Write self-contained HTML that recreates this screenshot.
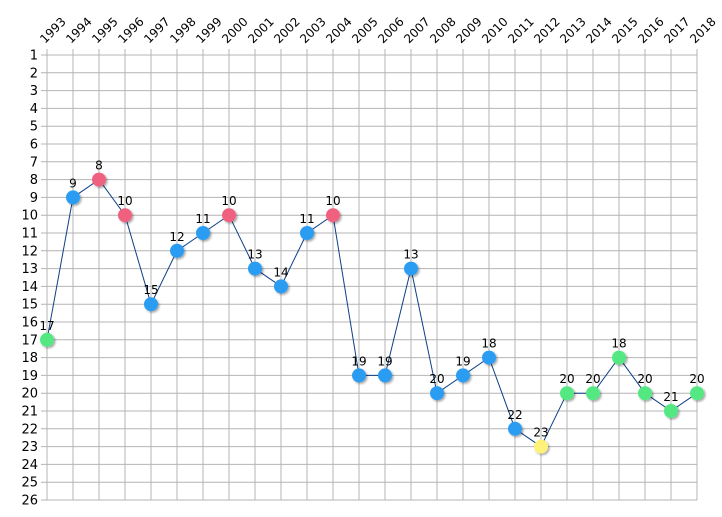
<!DOCTYPE html>
<html><head><meta charset="utf-8"><style>
body{margin:0;background:#fff;}
svg{display:block;font-family:"DejaVu Sans","Liberation Sans",sans-serif;}
</style></head><body>
<svg id="chart" width="722" height="517" viewBox="0 0 722 517">
<defs><filter id="sh" x="-50%" y="-50%" width="200%" height="200%"><feDropShadow dx="1.5" dy="1.5" stdDeviation="1" flood-color="#000" flood-opacity="0.35"/></filter></defs>
<g id="grid"></g>
<g id="xlabels"></g>
<g id="ylabels"></g>
<g id="series"></g>
</svg>
<script>
const years = [1993,1994,1995,1996,1997,1998,1999,2000,2001,2002,2003,2004,2005,2006,2007,2008,2009,2010,2011,2012,2013,2014,2015,2016,2017,2018];
const ranks = [17,9,8,10,15,12,11,10,13,14,11,10,19,19,13,20,19,18,22,23,20,20,18,20,21,20];
const colorKeys = ['g','b','p','p','b','b','b','p','b','b','b','p','b','b','b','b','b','b','b','y','g','g','g','g','g','g'];
const yTicks = [1,2,3,4,5,6,7,8,9,10,11,12,13,14,15,16,17,18,19,20,21,22,23,24,25,26];
const palette = {g:'#52e882',b:'#2a9cf2',p:'#f0607f',y:'#fff27a'};
const NS='http://www.w3.org/2000/svg';
const x0=47, dx=26, y0=55, yMax=500;
const xs = i => x0 + dx*i;
const ys = v => y0 + (yMax-y0)/25*(v-1);
function mk(tag, attrs, parent){const e=document.createElementNS(NS,tag);for(const k in attrs)e.setAttribute(k,attrs[k]);parent.appendChild(e);return e;}
const grid=document.getElementById('grid'), xl=document.getElementById('xlabels'), yl=document.getElementById('ylabels'), ser=document.getElementById('series');
years.forEach((yr,i)=>{
  const l=mk('line',{x1:xs(i),x2:xs(i),y1:49,y2:yMax,stroke:'#b4b4b4','stroke-width':1},grid);
  
  
  const t=mk('text',{x:xs(i)-2,y:44,'font-size':12,fill:'#000',transform:`rotate(-45 ${xs(i)-2} 44)`},xl);
  t.textContent=yr;
  
  
});
yTicks.forEach(v=>{
  const l=mk('line',{x1:41,x2:xs(years.length-1),y1:ys(v),y2:ys(v),stroke:'#b4b4b4','stroke-width':1},grid);
  
  
  const t=mk('text',{x:38,y:ys(v)+4.5,'font-size':13,'text-anchor':'end',fill:'#000'},yl);
  t.textContent=v;
  
  
});
const pts=ranks.map((r,i)=>xs(i)+','+ys(r)).join(' ');
const pl=mk('polyline',{points:pts,fill:'none',stroke:'#0d3f86','stroke-width':1},ser);


ranks.forEach((r,i)=>{
  const c=mk('circle',{cx:xs(i),cy:ys(r),r:7,fill:palette[colorKeys[i]],filter:'url(#sh)'},ser);
  
  
  const t=mk('text',{x:xs(i),y:ys(r)-10,'font-size':12,'text-anchor':'middle',fill:'#000'},ser);
  t.textContent=r;
  
  
});
</script>
</body></html>
